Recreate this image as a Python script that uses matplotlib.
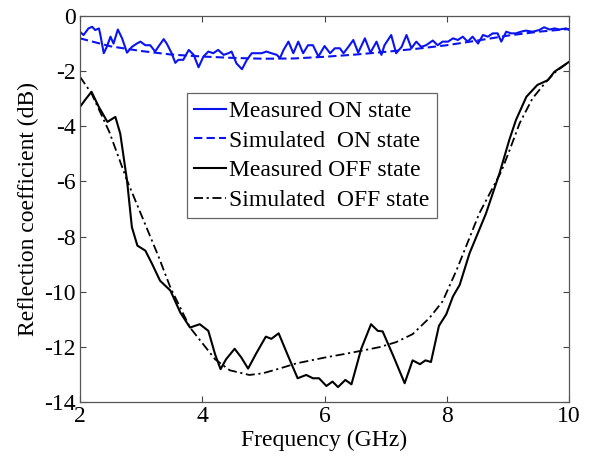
import matplotlib
matplotlib.use("Agg")
import matplotlib.pyplot as plt

# ---------------- data ----------------
meas_on_f = [2.0, 2.06, 2.14, 2.20, 2.25, 2.31, 2.33, 2.39, 2.44, 2.50, 2.55, 2.62, 2.69, 2.77,
             2.85, 2.93, 2.99, 3.07, 3.15, 3.23, 3.29, 3.37, 3.42, 3.50, 3.56, 3.61, 3.69, 3.78,
             3.86, 3.94, 4.02, 4.10, 4.18, 4.26, 4.35, 4.43, 4.48, 4.56, 4.65, 4.73, 4.81, 4.89,
             4.97, 5.05, 5.13, 5.22, 5.27, 5.33, 5.41, 5.49, 5.57, 5.65, 5.73, 5.81, 5.90, 6.00,
             6.09, 6.17, 6.25, 6.31, 6.39, 6.47, 6.55, 6.66, 6.75, 6.85, 6.93, 6.98, 7.09, 7.17,
             7.26, 7.34, 7.42, 7.50, 7.58, 7.66, 7.77, 7.85, 7.93, 8.02, 8.10, 8.18, 8.26, 8.34,
             8.42, 8.51, 8.59, 8.67, 8.75, 8.83, 8.89, 8.97, 9.05, 9.13, 9.21, 9.29, 9.40, 9.51,
             9.59, 9.68, 9.76, 9.84, 9.95, 10.0]
meas_on_db = [-0.57, -0.69, -0.45, -0.39, -0.51, -0.45, -0.63, -1.35, -1.12, -0.75, -1.00, -0.49, -0.81, -1.33,
              -1.12, -1.00, -0.93, -1.06, -1.06, -1.29, -1.09, -0.84, -1.00, -1.35, -1.70, -1.59, -1.59, -1.23,
              -1.41, -1.86, -1.47, -1.29, -1.35, -1.23, -1.41, -1.35, -1.29, -1.72, -1.93, -1.59, -1.35, -1.35,
              -1.35, -1.29, -1.35, -1.41, -1.53, -1.23, -0.93, -1.35, -0.93, -1.35, -1.06, -1.06, -1.47, -1.09,
              -1.35, -1.17, -1.17, -1.35, -1.12, -0.87, -1.33, -0.81, -1.33, -0.93, -1.41, -1.06, -0.69, -1.35,
              -1.12, -0.69, -1.17, -0.93, -1.12, -1.06, -0.89, -1.06, -0.93, -0.93, -0.81, -0.87, -0.75, -0.93,
              -0.75, -1.00, -0.69, -0.75, -0.63, -0.63, -0.93, -0.57, -0.63, -0.63, -0.57, -0.53, -0.57, -0.51,
              -0.41, -0.49, -0.45, -0.49, -0.45, -0.51]

sim_on_f = [2.0, 2.5, 3.0, 3.5, 4.0, 4.5, 5.0, 5.5, 6.0, 6.5, 7.0, 7.5, 8.0, 8.5, 9.0, 9.5, 10.0]
sim_on_db = [-0.81, -1.10, -1.27, -1.40, -1.47, -1.52, -1.55, -1.54, -1.48, -1.40, -1.30, -1.19,
             -1.06, -0.89, -0.71, -0.57, -0.47]

meas_off_f = [2.0, 2.10, 2.19, 2.31, 2.45, 2.58, 2.66, 2.77, 2.85, 2.94, 3.07, 3.18, 3.31, 3.48,
              3.64, 3.80, 3.96, 4.10, 4.21, 4.30, 4.39, 4.53, 4.64, 4.75, 4.88, 5.04, 5.13, 5.25,
              5.40, 5.56, 5.70, 5.81, 5.91, 6.03, 6.13, 6.22, 6.34, 6.44, 6.60, 6.76, 6.87, 6.95,
              7.12, 7.31, 7.44, 7.56, 7.65, 7.74, 7.87, 7.99, 8.10, 8.21, 8.37, 8.64, 8.86, 9.02,
              9.13, 9.30, 9.48, 9.65, 9.76, 10.0]
meas_off_db = [-3.30, -3.00, -2.75, -3.30, -3.84, -3.66, -4.27, -5.96, -7.66, -8.33, -8.51, -8.99, -9.60, -9.96,
               -10.75, -11.30, -11.18, -11.42, -12.27, -12.81, -12.45, -12.07, -12.39, -12.79, -12.25, -11.63, -11.71, -11.51,
               -12.31, -13.14, -13.02, -13.14, -13.14, -13.42, -13.26, -13.46, -13.20, -13.36, -12.07, -11.18, -11.42, -11.44,
               -12.31, -13.32, -12.49, -12.63, -12.49, -12.55, -11.24, -10.82, -10.17, -9.75, -8.61, -7.16, -5.71, -4.50,
               -3.77, -2.93, -2.50, -2.33, -2.02, -1.66]

sim_off_f = [2.0, 2.19, 2.48, 2.77, 3.02, 3.29, 3.48, 3.80, 4.21, 4.45, 4.77, 4.99, 5.26, 5.54,
             6.00, 6.35, 6.63, 6.90, 7.17, 7.44, 7.72, 7.93, 8.16, 8.53, 8.89, 9.02, 9.19, 9.40,
             9.62, 9.78, 10.0]
sim_off_db = [-2.20, -2.81, -4.20, -5.96, -7.30, -8.75, -9.85, -11.30, -12.45, -12.85, -13.02, -12.96, -12.79, -12.60,
              -12.39, -12.25, -12.13, -12.01, -11.83, -11.54, -10.94, -10.35, -9.21, -7.16, -5.64, -4.90, -3.89, -2.99,
              -2.39, -2.02, -1.66]

labels = ["Measured ON state", "Simulated  ON state", "Measured OFF state", "Simulated  OFF state"]
x_ticks = [2, 4, 6, 8, 10]
y_ticks = [0, -2, -4, -6, -8, -10, -12, -14]

# ---------------- plot ----------------
plt.rcParams['font.family'] = ['Liberation Serif', 'DejaVu Serif']

fig = plt.figure(figsize=(5.91, 4.57), dpi=100)
ax = fig.add_axes([0.1352, 0.1204, 0.8279, 0.8446])

blue = '#0a14f0'
ax.plot(meas_on_f, meas_on_db, color=blue, lw=1.5, ls='-', label=labels[0])
ax.plot(sim_on_f, sim_on_db, color=blue, lw=1.5, ls=(0, (4, 2)), label=labels[1])
ax.plot(meas_off_f, meas_off_db, color='black', lw=1.5, ls='-', label=labels[2])
ax.plot(sim_off_f, sim_off_db, color='black', lw=1.3, ls=(0, (5, 2, 1.2, 2)), label=labels[3])

ax.set_xlim(2, 10)
ax.set_ylim(-14, 0)
ax.set_xticks(x_ticks)
ax.set_xticklabels([str(t) for t in x_ticks])
ax.set_yticks(y_ticks)
ax.set_yticklabels([str(t) for t in y_ticks])

ax.tick_params(direction='in', top=True, right=True, length=4, width=0.8,
               labelsize=17, colors='#444444', labelcolor='black', pad=3)
for s in ax.spines.values():
    s.set_color('#555555')
    s.set_linewidth(0.9)

ax.set_xlabel("Frequency (GHz)", fontsize=17, labelpad=2)
ax.set_ylabel("Reflection coefficient (dB)", fontsize=17, labelpad=4)

leg = ax.legend(loc='upper center', bbox_to_anchor=(0.474, 0.80), borderaxespad=0,
                fontsize=17, handlelength=1.35, handletextpad=0.15, labelspacing=0.35,
                borderpad=0.3, fancybox=False, framealpha=1, edgecolor='#666666')
leg.get_frame().set_linewidth(0.9)

fig.savefig("out.png", dpi=100)
